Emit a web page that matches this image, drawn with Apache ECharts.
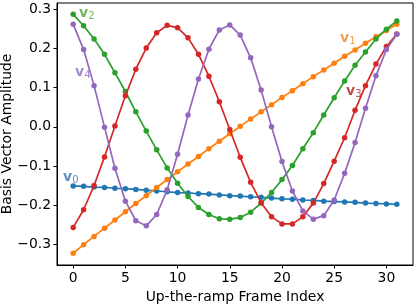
<!DOCTYPE html>
<html><head><meta charset="utf-8">
<script src="https://cdn.jsdelivr.net/npm/echarts@6/dist/echarts.min.js"></script>
<style>html,body{margin:0;padding:0;background:#fff}#c{width:416px;height:306px}</style>
</head><body><div id="c"></div>
<script>
const frames = Array.from({length: 32}, (_, i) => i);
const xTicks = [0, 5, 10, 15, 20, 25, 30];
const yTicks = [-0.3, -0.2, -0.1, 0.0, 0.1, 0.2, 0.3];
const seriesNames = ['v0', 'v1', 'v2', 'v3', 'v4'];
const v0 = [-0.151,-0.152,-0.154,-0.155,-0.157,-0.158,-0.160,-0.162,-0.164,-0.166,-0.168,-0.169,-0.171,-0.172,-0.174,-0.176,-0.177,-0.179,-0.180,-0.182,-0.184,-0.185,-0.187,-0.188,-0.190,-0.191,-0.192,-0.193,-0.195,-0.196,-0.197,-0.198];
const v1 = [-0.323,-0.301,-0.280,-0.259,-0.238,-0.217,-0.196,-0.176,-0.155,-0.135,-0.115,-0.095,-0.076,-0.056,-0.037,-0.018,0.001,0.020,0.038,0.056,0.075,0.092,0.110,0.128,0.145,0.162,0.180,0.196,0.213,0.230,0.246,0.262];
const v2 = [0.287,0.258,0.224,0.185,0.138,0.090,0.038,-0.011,-0.059,-0.105,-0.144,-0.178,-0.206,-0.224,-0.235,-0.236,-0.232,-0.218,-0.195,-0.168,-0.135,-0.099,-0.056,-0.015,0.030,0.074,0.117,0.157,0.191,0.224,0.249,0.270];
const v3 = [-0.257,-0.212,-0.150,-0.077,0.002,0.079,0.147,0.201,0.240,0.259,0.253,0.227,0.185,0.129,0.064,-0.007,-0.078,-0.142,-0.194,-0.230,-0.248,-0.248,-0.230,-0.195,-0.145,-0.088,-0.028,0.042,0.105,0.160,0.205,0.237];
const v4 = [0.262,0.197,0.105,-0.001,-0.106,-0.190,-0.240,-0.253,-0.224,-0.161,-0.070,0.030,0.122,0.198,0.247,0.260,0.234,0.176,0.094,0.000,-0.089,-0.164,-0.215,-0.236,-0.227,-0.187,-0.119,-0.040,0.047,0.130,0.197,0.236];
const allValues = [v0, v1, v2, v3, v4];
const colors = ['#1f77b4', '#ff7f0e', '#2ca02c', '#d62728', '#9467bd'];
const labelColors = ['#5e8fc6', '#f0a05a', '#6db95a', '#c2514d', '#a88bcd'];
const FONT = 'DejaVu Sans';
const FS = 13.9;

const chart = echarts.init(document.getElementById('c'), null, {renderer: 'canvas'});
const fmt = v => { const s = Math.abs(v).toFixed(1); return (v < -1e-9 ? '\u2212' : '') + s; };

const series = allValues.map((vals, k) => ({
  name: seriesNames[k], type: 'line',
  data: frames.map((f, i) => [f, vals[i]]),
  symbol: 'circle', symbolSize: 5.5, showSymbol: true,
  lineStyle: {width: 1.7, color: colors[k]},
  itemStyle: {color: colors[k]},
  z: 2 + k, animation: false, silent: true
}));

const labelPos = [[63, 170, 0], [340, 31, 1], [79, 6, 2], [346, 84, 3], [75, 65, 4]];
const graphics = labelPos.map(([x, y, k]) => ({
  type: 'text', left: x, top: y, z: 100,
  style: {
    text: '{b|v}{s|' + k + '}',
    fill: labelColors[k],
    rich: {
      b: {fontFamily: FONT, fontWeight: 'bold', fontSize: 14, fill: labelColors[k]},
      s: {fontFamily: FONT, fontSize: 10, fill: labelColors[k], padding: [6, 0, 0, 0]}
    }
  }
}));

chart.setOption({
  animation: false,
  backgroundColor: '#fff',
  grid: {left: 57, right: 3, top: 3, bottom: 41, outerBoundsMode: 'none', containLabel: false, show: true, borderColor: '#000', borderWidth: 1, backgroundColor: 'transparent'},
  xAxis: {
    type: 'value', min: -1.55, max: 32.55,
    name: 'Up-the-ramp Frame Index', nameLocation: 'middle', nameGap: 25, nameMoveOverlap: false,
    nameTextStyle: {fontFamily: FONT, fontSize: FS, color: '#000'},
    axisLine: {show: true, onZero: false, lineStyle: {color: '#000', width: 1}},
    axisTick: {show: true, length: 3.5, lineStyle: {color: '#000'}, customValues: xTicks},
    axisLabel: {fontFamily: FONT, fontSize: FS, color: '#000', margin: 6, customValues: xTicks, formatter: v => String(v)},
    splitLine: {show: false}
  },
  yAxis: {
    type: 'value', min: -0.353, max: 0.316,
    name: 'Basis Vector Amplitude', nameLocation: 'middle', nameGap: 43, nameRotate: 90, nameMoveOverlap: false,
    nameTextStyle: {fontFamily: FONT, fontSize: FS, color: '#000'},
    axisLine: {show: true, onZero: false, lineStyle: {color: '#000', width: 1}},
    axisTick: {show: true, length: 3.5, lineStyle: {color: '#000'}, customValues: yTicks},
    axisLabel: {fontFamily: FONT, fontSize: FS, color: '#000', margin: 6, customValues: yTicks, formatter: fmt},
    splitLine: {show: false}
  },
  series: series,
  graphic: graphics
});
</script></body></html>
